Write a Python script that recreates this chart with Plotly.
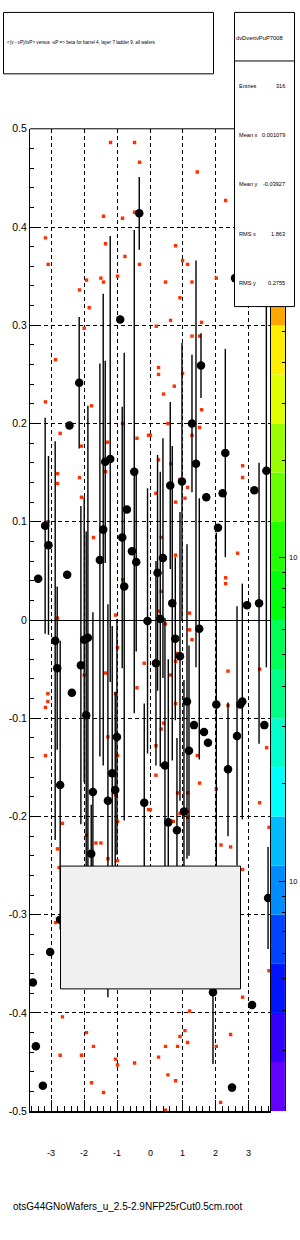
import math
import plotly.graph_objects as go

# ---------------- data ----------------
# scatter cells (2D histogram entries), x = -uP, y = <(v - vP)/tvP>
CELL_X = [-1.201, -0.470, -0.318, -3.180, -3.097, -1.414, -0.836, -0.470, -1.353, -0.763,
          -0.318, -2.145, -1.932, -1.493, -1.414, -0.988, -1.849, -2.002, -2.875, 1.438,
          2.300, 0.778, 0.991, 1.143, 0.473, 1.277, 2.017, 0.912, 0.626, 0.190,
          1.569, 1.277, 1.508, 0.260, -3.180, -2.732, -2.084, -1.779, -2.814, -2.814,
          -2.145, -2.084, -3.097, -1.718, -1.292, -1.353, -0.836, -0.397, -0.044, -0.823,
          -2.814, -1.049, 0.260, 0.991, 0.738, 0.412, 1.569, 0.546, 1.508, 0.008,
          1.277, 0.260, 0.638, 2.817, 2.817, 0.912, 1.143, 0.181, 1.064, 0.778,
          0.342, 0.778, 2.665, 2.300, 2.300, 0.342, 0.260, 1.204, -0.988, -3.107,
          -3.107, -3.180, -2.002, -1.353, -1.049, -0.397, -0.175, -3.180, -1.280, -0.988,
          -1.201, -1.049, -0.988, -2.662, -1.932, -1.645, -1.493, -2.814, -1.280, -0.988,
          -0.044, 0.464, 1.204, 1.277, 0.820, 0.778, 0.626, 2.373, 3.335, 0.778,
          2.373, 0.412, 0.342, 0.181, 3.548, 1.438, 0.181, 1.508, 0.839, 1.143,
          2.017, 3.335, 0.008, 0.912, 1.143, 1.143, 0.708, 3.621, 2.160, 2.452,
          -2.763, -2.814, -2.875, -2.662, -1.932, -1.718, -2.732, -2.084, -1.049, -0.988,
          -0.470, -1.779, -1.414, 2.817, 3.621, 2.817, 1.204, 1.064, 0.912, 1.143,
          2.452, 0.473, 0.839, 2.017, 0.260, 0.546, 0.778, 2.148, 0.473]
CELL_Y = [0.486, 0.486, 0.466, 0.389, 0.362, 0.411, 0.409, 0.415, 0.383, 0.370,
          0.362, 0.336, 0.346, 0.348, 0.344, 0.350, 0.318, 0.297, 0.265, 0.456,
          0.427, 0.381, 0.366, 0.362, 0.344, 0.344, 0.348, 0.328, 0.305, 0.299,
          0.303, 0.289, 0.289, 0.257, 0.222, 0.190, 0.177, 0.218, 0.149, 0.139,
          0.145, 0.125, 0.100, 0.084, 0.181, 0.151, 0.200, 0.185, 0.188, 0.041,
          0.002, 0.005, 0.250, 0.251, 0.238, 0.230, 0.214, 0.200, 0.196, 0.188,
          0.188, 0.163, 0.159, 0.157, 0.145, 0.143, 0.135, 0.129, 0.124, 0.120,
          0.084, 0.066, 0.068, 0.043, 0.037, 0.029, 0.009, 0.007, -0.028, -0.075,
          -0.083, -0.089, -0.056, -0.054, -0.075, -0.069, -0.044, -0.138, -0.119, -0.138,
          -0.158, -0.178, -0.205, -0.207, -0.219, -0.227, -0.227, -0.233, -0.243, -0.245,
          -0.193, -0.004, -0.010, -0.020, -0.034, -0.042, -0.056, -0.052, -0.050, -0.085,
          -0.087, -0.105, -0.111, -0.128, -0.130, -0.138, -0.158, -0.166, -0.176, -0.176,
          -0.172, -0.186, -0.193, -0.197, -0.195, -0.201, -0.205, -0.211, -0.229, -0.231,
          -0.252, -0.304, -0.308, -0.404, -0.420, -0.434, -0.443, -0.443, -0.447, -0.453,
          -0.451, -0.471, -0.481, -0.254, -0.357, -0.384, -0.398, -0.418, -0.424, -0.430,
          -0.422, -0.434, -0.434, -0.434, -0.445, -0.463, -0.469, -0.491, -0.499]

# profile points with errors
PROF_X = [-3.402, -3.189, -3.088, -2.449, -2.519, -2.154, -1.524, -1.423, -1.362, -1.210,
          -0.845, -0.784, -0.702, -0.549, -0.479, -0.419, -0.327, -0.906, 1.551, 1.277,
          1.399, 0.616, 0.973, 1.712, 2.291, 2.209, 3.174, 3.539, 2.068, 0.394,
          0.230, 0.677, 2.951, 3.317, 0.312, -2.884, -2.823, -2.376, -2.732, -2.002,
          -1.889, -2.102, -1.941, -1.737, -1.788, -1.006, -1.149, -1.058, -1.280, -0.175,
          -0.075, 1.499, 0.769, 0.912, 0.181, 1.125, 2.017, 2.747, 2.808, 1.338,
          1.642, 1.764, 1.186, 3.478, 2.647, 2.373, 0.455, 1.033, 0.556, 0.820,
          -3.037, -3.563, -3.472, -3.259, -2.732, 3.591, 1.916, 3.104, 2.495, 2.586]
PROF_Y = [0.042, 0.096, 0.076, 0.198, 0.046, 0.2415, 0.061, 0.092, 0.161, 0.164,
          0.084, 0.034, 0.1125, 0.070, 0.151, 0.059, 0.414, 0.306, 0.259, 0.200,
          0.159, 0.137, 0.141, 0.125, 0.170, 0.129, 0.132, 0.152, 0.094, 0.063,
          0.048, 0.017, 0.015, 0.017, 0.001, -0.021, -0.049, -0.074, -0.168, -0.020,
          -0.018, -0.046, -0.097, -0.175, -0.238, -0.119, -0.156, -0.173, -0.184, -0.186,
          -0.001, -0.009, -0.019, -0.037, -0.044, -0.083, -0.086, -0.086, -0.083, -0.107,
          -0.114, -0.125, -0.133, -0.107, -0.118, -0.152, -0.148, -0.195, -0.206, -0.214,
          -0.338, -0.369, -0.434, -0.474, -0.305, -0.283, -0.379, -0.392, -0.476, 0.348]
PROF_ERR = [0.0, 0.110, 0.091, 0.0, 0.0, 0.067, 0.200, 0.240, 0.103, 0.227,
            0.133, 0.238, 0.0, 0.0, 0.246, 0.091, 0.037, 0.0, 0.033, 0.070,
            0.207, 0.085, 0.141, 0.0, 0.106, 0.0, 0.0, 0.200, 0.0, 0.122,
            0.120, 0.160, 0.0, 0.143, 0.150, 0.203, 0.083, 0.0, 0.147, 0.145,
            0.236, 0.162, 0.187, 0.183, 0.050, 0.120, 0.150, 0.100, 0.200, 0.101,
            0.135, 0.133, 0.083, 0.147, 0.104, 0.160, 0.175, 0.0, 0.120, 0.0,
            0.0, 0.0, 0.107, 0.0, 0.132, 0.068, 0.150, 0.134, 0.166, 0.094,
            0.0, 0.0, 0.0, 0.0, 0.0, 0.052, 0.073, 0.0, 0.0, 0.0]

X_TICKS = [-3, -2, -1, 0, 1, 2, 3]
X_TICK_LABELS = ["-3", "-2", "-1", "0", "1", "2", "3"]
Y_TICKS = [-0.5, -0.4, -0.3, -0.2, -0.1, 0, 0.1, 0.2, 0.3, 0.4, 0.5]
Y_TICK_LABELS = ["-0.5", "-0.4", "-0.3", "-0.2", "-0.1", "0", "0.1", "0.2", "0.3", "0.4", "0.5"]

# colour axis (log10 units)
Z_LOG_RANGE = [-2.71, 0.324]
Z_MAJOR = [-2, -1, 0]
Z_LABELS = ["10", "10", ""]
PALETTE = ["#6300ff", "#3300ff", "#0014ff", "#0044ff", "#008bff", "#00bbff", "#00fffc", "#00ffcc",
           "#00ff85", "#00ff55", "#00ff0e", "#22ff00", "#69ff00", "#99ff00", "#e0ff00", "#ffee00",
           "#ffa700", "#ff7700", "#ff3000", "#ff0000"]

TITLE = "<(v - vP)/tvP> versus -uP => beta for barrel 4, layer 7 ladder 9, all wafers"
STATS_NAME = "dvDvertvPuP7008"
STATS_ROWS = [("Entries", "316"), ("Mean x", "0.001079"), ("Mean y", "-0.03927"),
              ("RMS x", "1.863"), ("RMS y", "0.2755")]
FILE_NAME = "otsG44GNoWafers_u_2.5-2.9NFP25rCut0.5cm.root"

FONT = "Liberation Sans, Arial, sans-serif"
W, H = 300, 1240


def px(x):
    return x / W


def py(y):
    return 1 - y / H


fig = go.Figure()

fig.add_trace(go.Scatter(
    x=CELL_X, y=CELL_Y, mode="markers",
    marker=dict(symbol="square", size=3.4, color="#ff3000", line=dict(width=0)),
    hoverinfo="skip", showlegend=False))

fig.add_trace(go.Scatter(
    x=PROF_X, y=PROF_Y, mode="markers",
    marker=dict(symbol="circle", size=8.5, color="black", line=dict(width=0)),
    error_y=dict(type="data", array=PROF_ERR, visible=True, color="black", thickness=1.4, width=0),
    hoverinfo="skip", showlegend=False))

# invisible trace to activate colour axis
fig.add_trace(go.Scatter(x=[0.5], y=[Z_LOG_RANGE[0]], xaxis="x2", yaxis="y2", mode="markers",
                         marker=dict(size=1, opacity=0), hoverinfo="skip", showlegend=False))

grid = dict(showgrid=True, gridcolor="black", gridwidth=1, griddash="4px,3px")

z_minor = [d + math.log10(k) for d in (-3, -2, -1, 0) for k in range(2, 10)]

fig.update_layout(
    width=W, height=H, margin=dict(l=0, r=0, t=0, b=0),
    paper_bgcolor="white", plot_bgcolor="white",
    font=dict(family=FONT, color="black"),
    xaxis=dict(domain=[0.1, 0.9], range=[-3.65, 3.65], tickvals=X_TICKS, showticklabels=False,
               ticks="inside", ticklen=11, tickcolor="black", tickwidth=1,
               minor=dict(dtick=0.2, tick0=0, ticks="inside", ticklen=5, tickcolor="black", showgrid=False),
               showline=True, linecolor="black", linewidth=2, mirror=False, zeroline=False,
               anchor="y", **grid),
    yaxis=dict(domain=[0.1, 0.9], range=[-0.5, 0.5], tickvals=Y_TICKS, ticktext=Y_TICK_LABELS,
               ticks="inside", ticklen=8, tickcolor="black", tickwidth=1,
               minor=dict(dtick=0.02, tick0=0, ticks="inside", ticklen=4, tickcolor="black", showgrid=False),
               tickfont=dict(size=10.5, family=FONT, color="black"),
               showline=True, linecolor="black", linewidth=1, mirror=True,
               zeroline=True, zerolinecolor="black", zerolinewidth=1,
               anchor="x", **grid),
    xaxis2=dict(domain=[0.9023, 0.9497], range=[0, 1], visible=False, anchor="y2"),
    yaxis2=dict(domain=[0.1, 0.9], range=Z_LOG_RANGE, anchor="x2", side="right",
                tickvals=Z_MAJOR, showticklabels=False, ticks="inside", ticklen=6,
                tickcolor="black", showline=True, linecolor="black", linewidth=1,
                showgrid=False, zeroline=False,
                minor=dict(tickvals=z_minor, ticks="inside", ticklen=3, tickcolor="black", showgrid=False)),
)

shapes = []
n = len(PALETTE)
step = (Z_LOG_RANGE[1] - Z_LOG_RANGE[0]) / n
for j, c in enumerate(PALETTE):
    shapes.append(dict(type="rect", xref="x2 domain", yref="y2", x0=0, x1=1,
                       y0=Z_LOG_RANGE[0] + j * step, y1=Z_LOG_RANGE[0] + (j + 1) * step,
                       fillcolor=c, line=dict(width=0), layer="below"))
# top frame line
shapes.append(dict(type="line", xref="paper", yref="paper", x0=0.1, x1=0.9, y0=0.9, y1=0.9,
                   line=dict(color="black", width=1)))
# title box
shapes.append(dict(type="rect", xref="paper", yref="paper", x0=px(3.5), x1=px(213.5), y0=py(68.5), y1=py(6.5),
                   fillcolor="white", line=dict(color="black", width=1)))
# stats box
shapes.append(dict(type="rect", xref="paper", yref="paper", x0=px(234.5), x1=px(294.5), y0=py(303.5), y1=py(6.5),
                   fillcolor="white", line=dict(color="black", width=1)))
shapes.append(dict(type="line", xref="paper", yref="paper", x0=px(234.5), x1=px(294.5), y0=py(55.5), y1=py(55.5),
                   line=dict(color="black", width=1)))
# empty grey pave
shapes.append(dict(type="rect", xref="paper", yref="paper", x0=px(60.5), x1=px(240.5), y0=py(992.5), y1=py(868.5),
                   fillcolor="#f0f0f0", line=dict(color="black", width=1)))
fig.update_layout(shapes=shapes)

ann = []
for v, t in zip(X_TICKS, X_TICK_LABELS):
    ann.append(dict(x=v, xref="x", y=py(1158), yref="paper", text=t, showarrow=False,
                    font=dict(size=9, family=FONT, color="black"), xanchor="center", yanchor="middle"))
for v, t in zip(Z_MAJOR, Z_LABELS):
    if t:
        ann.append(dict(x=px(288), xref="paper", y=v, yref="y2", text=t, showarrow=False,
                        font=dict(size=7.5, family=FONT, color="black"), xanchor="left", yanchor="middle",
                        borderpad=0))
ann.append(dict(x=px(4.5), xref="paper", y=py(37), yref="paper", text=TITLE, showarrow=False,
                font=dict(size=4.6, family=FONT, color="black"), xanchor="left", yanchor="middle"))
ann.append(dict(x=px(233.5), xref="paper", y=py(32.5), yref="paper", text=STATS_NAME, showarrow=False,
                font=dict(size=5.8, family=FONT, color="black"), xanchor="left", yanchor="middle"))
for i, (k, v) in enumerate(STATS_ROWS):
    yy = 81 + i * 49.6
    ann.append(dict(x=px(237), xref="paper", y=py(yy), yref="paper", text=k, showarrow=False,
                    font=dict(size=5.6, family=FONT, color="black"), xanchor="left", yanchor="middle"))
    ann.append(dict(x=px(286.5), xref="paper", y=py(yy), yref="paper", text=v, showarrow=False,
                    font=dict(size=5.6, family=FONT, color="black"), xanchor="right", yanchor="middle"))
ann.append(dict(x=px(243.5), xref="paper", y=py(1212), yref="paper", text=FILE_NAME, showarrow=False,
                font=dict(size=10, family=FONT, color="black"), xanchor="right", yanchor="middle"))
fig.update_layout(annotations=ann)

fig.write_html("out.html")
